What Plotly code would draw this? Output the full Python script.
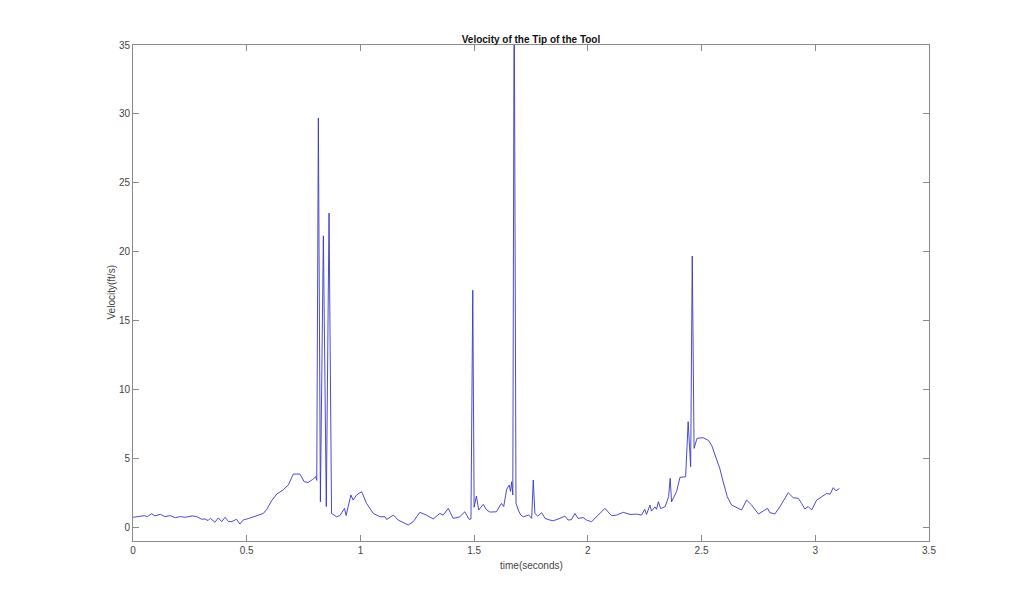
import plotly.graph_objects as go

# time (s) and velocity (ft/s)
time_s = [0.0, 0.03, 0.05, 0.063, 0.082, 0.097, 0.12, 0.14, 0.164, 0.186, 0.208, 0.23, 0.26, 0.28,
          0.302, 0.317, 0.33, 0.34, 0.36, 0.375, 0.39, 0.405, 0.42, 0.435, 0.455, 0.47, 0.485,
          0.507, 0.528, 0.55, 0.573, 0.588, 0.61, 0.632, 0.66, 0.683, 0.705, 0.734, 0.753, 0.77,
          0.79, 0.804, 0.808, 0.815, 0.824, 0.837, 0.85, 0.862, 0.873, 0.895, 0.91, 0.93, 0.937,
          0.958, 0.968, 0.983, 1.005, 1.027, 1.057, 1.086, 1.108, 1.115, 1.145, 1.166, 1.21,
          1.232, 1.261, 1.29, 1.32, 1.349, 1.364, 1.386, 1.408, 1.437, 1.459, 1.478, 1.486,
          1.494, 1.5, 1.51, 1.52, 1.54, 1.555, 1.57, 1.598, 1.62, 1.63, 1.643, 1.654, 1.66,
          1.665, 1.67, 1.676, 1.684, 1.694, 1.705, 1.716, 1.74, 1.753, 1.76, 1.767, 1.78, 1.797,
          1.812, 1.833, 1.848, 1.877, 1.899, 1.913, 1.928, 1.943, 1.957, 1.979, 1.994, 2.016,
          2.045, 2.075, 2.104, 2.126, 2.156, 2.185, 2.215, 2.236, 2.25, 2.258, 2.273, 2.28,
          2.295, 2.302, 2.31, 2.32, 2.34, 2.355, 2.362, 2.368, 2.39, 2.405, 2.43, 2.441, 2.452,
          2.459, 2.467, 2.48, 2.507, 2.53, 2.544, 2.566, 2.58, 2.595, 2.613, 2.632, 2.654, 2.676,
          2.698, 2.72, 2.75, 2.772, 2.79, 2.8, 2.822, 2.845, 2.881, 2.903, 2.925, 2.94, 2.954,
          2.969, 2.984, 3.006, 3.028, 3.05, 3.065, 3.079, 3.09, 3.106]
velocity = [0.72, 0.77, 0.84, 0.77, 0.98, 0.82, 0.94, 0.77, 0.84, 0.69, 0.77, 0.72, 0.82, 0.77,
            0.58, 0.6, 0.48, 0.65, 0.36, 0.67, 0.41, 0.72, 0.41, 0.41, 0.58, 0.23, 0.53,
            0.63, 0.77, 0.87, 1.0, 1.3, 1.93, 2.41, 2.7, 3.07, 3.86, 3.86, 3.3, 3.25,
            3.47, 3.67, 3.4, 29.7, 1.85, 21.15, 1.5, 22.8, 1.0, 0.76, 0.85, 1.37, 0.85,
            2.34, 1.97, 2.34, 2.58, 1.73, 1.0, 0.76, 0.76, 0.56, 0.88, 0.52, 0.16,
            0.4, 1.08, 0.88, 0.6, 1.0, 0.88, 1.37, 0.64, 0.76, 1.12, 0.57, 0.6,
            17.2, 1.45, 2.26, 1.25, 1.66, 1.25, 1.1, 1.12, 1.73, 1.5, 2.75, 3.06, 2.6,
            3.3, 2.34, 40.0, 1.75, 1.25, 0.88, 0.76, 0.88, 0.64, 3.43, 1.0, 0.8, 1.05,
            0.64, 0.52, 0.47, 0.64, 0.81, 0.52, 0.55, 1.0, 0.64, 0.7, 0.52, 0.4,
            0.88, 1.37, 0.84, 0.88, 1.08, 0.93, 0.95, 0.88, 1.3, 0.93, 1.61, 1.17,
            1.48, 1.3, 1.85, 1.35, 1.5, 2.21, 3.55, 1.85, 2.58, 3.62, 3.66, 7.66, 4.39,
            19.68, 5.72, 6.45, 6.5, 6.3, 5.96, 4.88, 4.27, 3.3, 2.21, 1.61, 1.44, 1.25,
            1.97, 1.61, 0.96, 1.17, 1.37, 1.06, 0.96, 1.5, 2.5, 2.14, 2.1, 1.73, 1.32,
            1.5, 1.25, 1.97, 2.21, 2.45, 2.4, 2.87, 2.65, 2.8]

x_ticks = [0, 0.5, 1, 1.5, 2, 2.5, 3, 3.5]
x_tick_labels = ["0", "0.5", "1", "1.5", "2", "2.5", "3", "3.5"]
y_ticks = [0, 5, 10, 15, 20, 25, 30, 35]

FONT = "Liberation Sans, Arial, sans-serif"
AXIS_COLOR = "#8a8a8a"
TEXT_COLOR = "#444444"

fig = go.Figure()
fig.add_trace(go.Scatter(x=time_s, y=velocity, mode="lines",
                         line=dict(color="#3535d0", width=0.9), showlegend=False))

axis_common = dict(showgrid=False, zeroline=False, showline=True, linecolor=AXIS_COLOR,
                   linewidth=1, mirror="ticks", ticks="inside", ticklen=6,
                   tickcolor=AXIS_COLOR, tickfont=dict(family=FONT, size=10, color=TEXT_COLOR))

fig.update_layout(
    width=1024, height=608,
    margin=dict(l=125, r=103, t=37, b=75),
    paper_bgcolor="white", plot_bgcolor="white",
    xaxis=dict(range=[0, 3.5], tickvals=x_ticks, ticktext=x_tick_labels, **axis_common),
    yaxis=dict(range=[-1, 35], tickvals=y_ticks, **axis_common),
    title=dict(text="<b>Velocity of the Tip of the Tool</b>", x=0.5, xref="paper",
               y=1, yref="paper", yanchor="bottom", pad=dict(b=2),
               font=dict(family=FONT, size=10, color="#111111")),
    annotations=[
        dict(text="time(seconds)", xref="paper", yref="paper", x=0.5, y=0,
             xanchor="center", yanchor="top", yshift=-17, showarrow=False,
             font=dict(family=FONT, size=10, color=TEXT_COLOR)),
        dict(text="Velocity(ft/s)", xref="paper", yref="paper", x=0, y=0.5,
             xanchor="right", yanchor="middle", xshift=-15, textangle=-90, showarrow=False,
             font=dict(family=FONT, size=10, color=TEXT_COLOR)),
    ],
)

fig.write_html("out.html")
